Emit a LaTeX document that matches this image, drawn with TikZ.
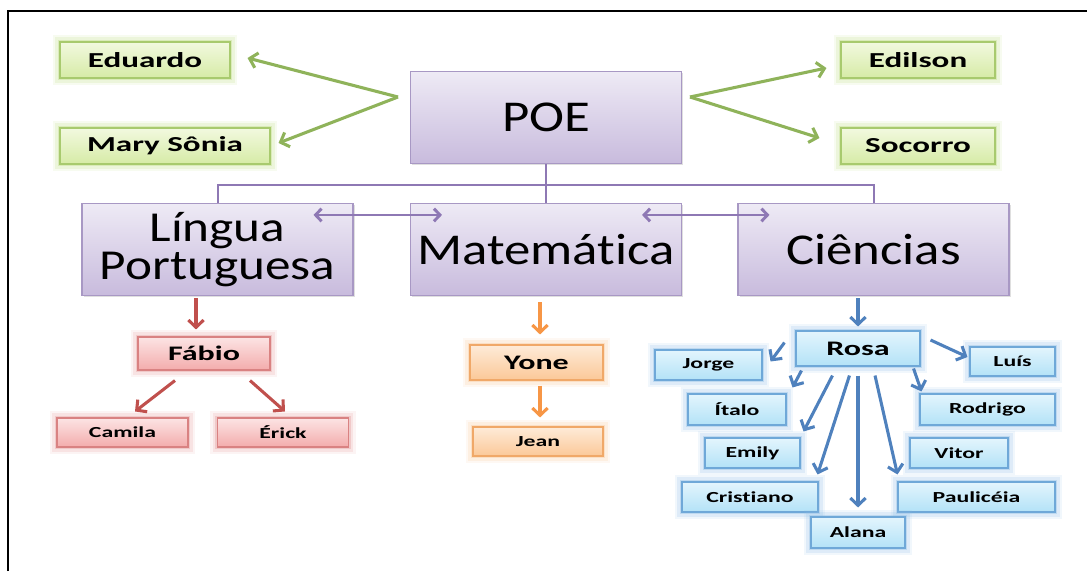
\documentclass[tikz,border=0pt]{standalone}
\usepackage{fontspec}
\setmainfont{Carlito}
\newfontfamily\hdfont{Carlito}[FakeStretch=1.2,Ligatures=NoCommon]
\newfontfamily\lblfont{Carlito}[FakeStretch=1.55,Ligatures=NoCommon]
\usetikzlibrary{arrows.meta,calc,shadows}
\definecolor{purpT}{HTML}{EEEAF5}
\definecolor{purpBot}{HTML}{C8BBDD}
\definecolor{purpB}{HTML}{A898C4}
\definecolor{purpL}{HTML}{8E78B4}
\definecolor{grnT}{HTML}{F2F9DF}
\definecolor{grnBot}{HTML}{D6EBA6}
\definecolor{grnB}{HTML}{A8CA6E}
\definecolor{grnG}{HTML}{BFDC86}
\definecolor{grnA}{HTML}{8FB35A}
\definecolor{redT}{HTML}{FCE4E4}
\definecolor{redBot}{HTML}{F3ACAC}
\definecolor{redB}{HTML}{D98282}
\definecolor{redG}{HTML}{E6A2A2}
\definecolor{redA}{HTML}{C0504D}
\definecolor{orT}{HTML}{FEEBD8}
\definecolor{orBot}{HTML}{FBC898}
\definecolor{orB}{HTML}{F0A868}
\definecolor{orG}{HTML}{F8C89A}
\definecolor{orA}{HTML}{F79646}
\definecolor{blT}{HTML}{E3F5FD}
\definecolor{blBot}{HTML}{B3E2F7}
\definecolor{blB}{HTML}{6FA8D8}
\definecolor{blG}{HTML}{8FBDE6}
\definecolor{blA}{HTML}{4F81BD}
\begin{document}
\begin{tikzpicture}[x=0.75pt,y=-0.75pt,
  box/.style={rectangle, inner sep=0pt, align=center},
  purp/.style={box, draw=purpB, line width=0.8pt, top color=purpT, bottom color=purpBot,
    font=\hdfont\fontsize{33}{29}\selectfont, minimum width=203.25pt, minimum height=69pt,
    drop shadow={opacity=0.25, shadow xshift=1.2pt, shadow yshift=-1.2pt}},
  glowbox/.style={box, line width=0.8pt,
    preaction={draw=#1, line width=11pt, opacity=0.12},
    preaction={draw=#1, line width=7pt, opacity=0.2},
    preaction={draw=#1, line width=3.5pt, opacity=0.4}},
  big/.style={font=\lblfont\bfseries\fontsize{15.5}{17}\selectfont},
  small/.style={font=\lblfont\bfseries\fontsize{11.5}{13}\selectfont},
  gbox/.style={glowbox=grnG, draw=grnB, top color=grnT, bottom color=grnBot,
    font=\lblfont\bfseries\fontsize{16}{17}\selectfont, minimum height=27pt},
  rbox/.style={glowbox=redG, draw=redB, top color=redT, bottom color=redBot},
  obox/.style={glowbox=orG, draw=orB, top color=orT, bottom color=orBot},
  bbox/.style={glowbox=blG, draw=blB, top color=blT, bottom color=blBot, small, minimum height=22.5pt},
  arr/.style={line width=2.3pt, -{Straight Barb[length=5.5pt,width=11.5pt]}, draw=#1},
  darr/.style={draw=purpL, line width=2.2pt, {Straight Barb[length=4.5pt,width=9.5pt]}-{Straight Barb[length=4.5pt,width=9.5pt]}},
  frameline/.style={line width=1.8pt, black}
]
\useasboundingbox (0,0) rectangle (1087,571);
\draw[frameline] (8,571) -- (8,11) -- (1087,11);

% main boxes
\node[purp] (poe) at (546,117.5) {POE};
\node[purp, font=\hdfont\fontsize{32}{29}\selectfont] (lin) at (217.5,249.5) {Língua\\Portuguesa};
\node[purp] (mat) at (546,249.5) {Matemática};
\node[purp] (cien) at (873.5,249.5) {Ciências};

% green
\node[gbox, minimum width=127.5pt] (edu) at (145,60) {Eduardo};
\node[gbox, minimum width=157.5pt] (mary) at (165,146) {Mary Sônia};
\node[gbox, minimum width=115.5pt] (edi) at (918,60) {Edilson};
\node[gbox, minimum width=115.5pt] (soc) at (918,146) {Socorro};

% red
\node[rbox, big, minimum width=99pt, minimum height=24.75pt] (fab) at (204,353.5) {Fábio};
\node[rbox, small, minimum width=98.25pt, minimum height=21.75pt] (cam) at (122.5,432.5) {Camila};
\node[rbox, small, minimum width=98.25pt, minimum height=21.75pt] (eri) at (283,432.5) {Érick};

% orange
\node[obox, big, minimum width=99.75pt, minimum height=26.25pt] (yone) at (536.5,362.5) {Yone};
\node[obox, small, minimum width=97.5pt, minimum height=21.75pt] (jean) at (538,441.5) {Jean};

% blue
\node[bbox, big, minimum width=93pt, minimum height=26.25pt] (rosa) at (858,348.5) {Rosa};
\node[bbox, minimum width=80.25pt] (jorge) at (708.5,365) {Jorge};
\node[bbox, minimum width=63.75pt, minimum height=21.75pt] (luis) at (1012.5,361.5) {Luís};
\node[bbox, minimum width=73.5pt, minimum height=23.25pt] (ital) at (737,409.5) {Ítalo};
\node[bbox, minimum width=101.25pt, minimum height=23.25pt] (rod) at (987.5,409.5) {Rodrigo};
\node[bbox, minimum width=71.25pt] (emi) at (752.5,453) {Emily};
\node[bbox, minimum width=73.5pt] (vit) at (959,453) {Vitor};
\node[bbox, minimum width=102pt] (cris) at (750,497) {Cristiano};
\node[bbox, minimum width=117.75pt] (paul) at (976.5,497) {Paulicéia};
\node[bbox, minimum width=70.5pt, minimum height=23.25pt] (alana) at (858,532.5) {Alana};

% purple tree lines
\draw[purpL, line width=1.5pt] (poe.south) -- (mat.north);
\draw[purpL, line width=1.5pt] (lin.north) |- ($(poe.south)!0.55!(mat.north)$) -| (cien.north);
\draw[darr] ($(lin.north east)+(-40,12)$) -- ($(mat.north west)+(32,12)$);
\draw[darr] ($(mat.north east)+(-40,12)$) -- ($(cien.north west)+(32,12)$);

% green arrows
\coordinate (gl) at (398,97);
\coordinate (gr) at (690,97);
\draw[arr=grnA] (gl) -- ($(edu.east)+(17,-2)$);
\draw[arr=grnA] (gl) -- ($(mary.east)+(8,-3)$);
\draw[arr=grnA] (gr) -- ($(edi.west)+(-14,8)$);
\draw[arr=grnA] (gr) -- ($(soc.west)+(-21,-8)$);

% red arrows
\draw[arr=redA] ($(lin.south)+(-21.5,2)$) -- ($(fab.north)+(-8,-7)$);
\draw[arr=redA] ($(fab.south)+(-29,10)$) -- ($(cam.north)+(12.5,-6)$);
\draw[arr=redA] ($(fab.south)+(46,10)$) -- ($(eri.north)+(2,-6)$);

% orange arrows
\draw[arr=orA] ($(mat.south)+(-6,6)$) -- ($(yone.north)+(3.5,-10)$);
\draw[arr=orA] ($(yone.south)+(3.5,5)$) -- ($(jean.north)+(2,-9)$);

% blue arrows
\draw[arr=blA] ($(cien.south)+(-15.5,2)$) -- ($(rosa.north)+(0,-4)$);
\draw[arr=blA] ($(rosa.south west)+(-11,-24)$) -- ($(jorge.north east)+(8,12)$);
\draw[arr=blA] ($(rosa.south west)+(6,4)$) -- ($(ital.north east)+(6,-6)$);
\draw[arr=blA] ($(rosa.south west)+(37,9)$) -- ($(emi.north east)+(3,-6)$);
\draw[arr=blA] ($(rosa.south west)+(54,9)$) -- ($(cris.north east)+(-1,-7)$);
\draw[arr=blA] ($(rosa.south)+(0,9)$) -- ($(alana.north)+(0,-9)$);
\draw[arr=blA] ($(rosa.south)+(17,9)$) -- ($(paul.north west)+(0,-7)$);
\draw[arr=blA] ($(rosa.south east)+(-7,2)$) -- ($(rod.north west)+(2,-2)$);
\draw[arr=blA] ($(rosa.east)+(10,-8.5)$) -- ($(luis.west)+(-2,-4.5)$);
\end{tikzpicture}
\end{document}
